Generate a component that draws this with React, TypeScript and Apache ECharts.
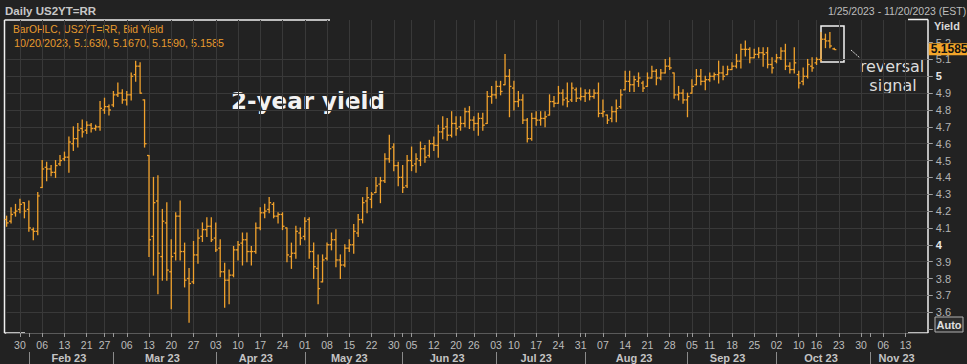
import React, { useEffect, useRef } from 'react';
import * as echarts from 'echarts';

// ---- calendar (trading days; future part of the axis shows all weekdays) ----
const AXIS_START = '2023-01-25';
const AXIS_END = '2023-11-20';
const HOLIDAYS = ['2023-02-20', '2023-05-29', '2023-06-19', '2023-07-04', '2023-09-04', '2023-10-09'];
const MONTH_NAMES = ['Jan', 'Feb', 'Mar', 'Apr', 'May', 'Jun', 'Jul', 'Aug', 'Sep', 'Oct', 'Nov', 'Dec'];

// ---- daily OHLC bars [open, high, low, close] ----
const OHLC_JAN = [
  [4.15, 4.17, 4.11, 4.13], [4.14, 4.22, 4.13, 4.18], [4.19, 4.24, 4.17, 4.2], [4.21, 4.27, 4.19, 4.24],
  [4.25, 4.25, 4.16, 4.2],
];
const OHLC_FEB = [
  [4.21, 4.26, 4.08, 4.1], [4.09, 4.1, 4.03, 4.08], [4.08, 4.31, 4.06, 4.29], [4.34, 4.5, 4.34, 4.45],
  [4.46, 4.49, 4.38, 4.45], [4.45, 4.47, 4.41, 4.43], [4.43, 4.5, 4.4, 4.47], [4.48, 4.53, 4.47, 4.5],
  [4.51, 4.55, 4.5, 4.52], [4.52, 4.64, 4.43, 4.61], [4.6, 4.7, 4.56, 4.63], [4.63, 4.72, 4.58, 4.68],
  [4.69, 4.74, 4.64, 4.67], [4.68, 4.73, 4.66, 4.71], [4.71, 4.72, 4.67, 4.69], [4.69, 4.71, 4.68, 4.7],
  [4.7, 4.85, 4.68, 4.81], [4.8, 4.87, 4.78, 4.82], [4.82, 4.83, 4.77, 4.8],
];
const OHLC_MAR = [
  [4.83, 4.91, 4.82, 4.89], [4.89, 4.96, 4.88, 4.9], [4.9, 4.92, 4.84, 4.86], [4.86, 4.91, 4.83, 4.89],
  [4.89, 5.02, 4.86, 5.0], [5.01, 5.09, 4.97, 5.06], [5.06, 5.08, 4.9, 4.9], [4.86, 4.86, 4.58, 4.6],
  [4.53, 4.53, 3.93, 4.03], [4.05, 4.4, 3.82, 4.25], [4.26, 4.41, 3.71, 3.95], [3.93, 4.21, 3.79, 4.14],
  [4.13, 4.25, 3.79, 3.85], [3.84, 4.03, 3.62, 3.93], [3.95, 4.19, 3.91, 4.17], [4.17, 4.26, 3.91, 3.96],
  [3.96, 4.01, 3.75, 3.79], [3.8, 3.86, 3.54, 3.77], [3.78, 4.02, 3.77, 3.94], [3.94, 4.09, 3.89, 4.04],
  [4.05, 4.13, 4.02, 4.09], [4.09, 4.16, 4.05, 4.11], [4.11, 4.16, 4.02, 4.03],
];
const OHLC_APR = [
  [4.04, 4.13, 3.96, 3.97], [3.98, 4.03, 3.81, 3.84], [3.84, 3.89, 3.63, 3.79], [3.79, 3.85, 3.65, 3.82],
  [3.82, 3.99, 3.81, 3.97], [3.97, 4.02, 3.91, 4.0], [4.01, 4.07, 3.88, 4.03], [4.03, 4.07, 3.9, 3.96],
  [3.96, 3.99, 3.88, 3.96], [3.96, 4.13, 3.95, 4.1], [4.1, 4.22, 4.09, 4.19], [4.19, 4.24, 4.16, 4.2],
  [4.21, 4.28, 4.19, 4.25], [4.24, 4.25, 4.16, 4.17], [4.17, 4.19, 4.13, 4.18], [4.18, 4.19, 4.09, 4.11],
  [4.1, 4.1, 3.9, 3.94], [3.93, 4.01, 3.86, 3.95], [3.95, 4.11, 3.92, 4.08], [4.07, 4.1, 4.0, 4.04],
];
const OHLC_MAY = [
  [4.05, 4.16, 4.03, 4.14], [4.15, 4.16, 3.92, 3.96], [3.96, 4.01, 3.8, 3.87], [3.86, 3.94, 3.65, 3.74],
  [3.78, 3.94, 3.78, 3.91], [3.92, 4.01, 3.91, 4.0], [4.0, 4.07, 3.97, 4.03], [4.03, 4.09, 3.87, 3.91],
  [3.91, 3.94, 3.8, 3.88], [3.88, 4.0, 3.87, 3.98], [3.98, 4.03, 3.96, 4.0], [4.0, 4.12, 3.95, 4.08],
  [4.07, 4.18, 4.05, 4.15], [4.15, 4.28, 4.13, 4.25], [4.26, 4.34, 4.19, 4.28], [4.27, 4.31, 4.22, 4.3],
  [4.31, 4.4, 4.31, 4.35], [4.36, 4.4, 4.25, 4.38], [4.38, 4.54, 4.37, 4.51], [4.51, 4.65, 4.49, 4.57],
  [4.58, 4.6, 4.44, 4.47], [4.47, 4.49, 4.35, 4.4],
];
const OHLC_JUN = [
  [4.4, 4.47, 4.31, 4.34], [4.35, 4.53, 4.34, 4.5], [4.5, 4.58, 4.44, 4.47], [4.48, 4.54, 4.43, 4.51],
  [4.5, 4.61, 4.47, 4.57], [4.57, 4.59, 4.49, 4.52], [4.53, 4.62, 4.52, 4.6], [4.6, 4.64, 4.56, 4.59],
  [4.59, 4.71, 4.52, 4.67], [4.67, 4.76, 4.63, 4.69], [4.7, 4.75, 4.62, 4.65], [4.65, 4.79, 4.64, 4.72],
  [4.72, 4.76, 4.65, 4.69], [4.7, 4.76, 4.68, 4.72], [4.72, 4.81, 4.7, 4.79], [4.79, 4.82, 4.69, 4.74],
  [4.74, 4.76, 4.68, 4.72], [4.72, 4.78, 4.65, 4.75], [4.75, 4.78, 4.68, 4.71], [4.72, 4.91, 4.72, 4.88],
  [4.88, 4.94, 4.84, 4.89],
];
const OHLC_JUL = [
  [4.89, 4.97, 4.87, 4.94], [4.94, 4.97, 4.89, 4.91], [4.95, 5.13, 4.95, 5.0], [5.0, 5.04, 4.76, 4.94],
  [4.93, 4.97, 4.8, 4.85], [4.85, 4.91, 4.82, 4.86], [4.86, 4.89, 4.72, 4.74], [4.74, 4.75, 4.61, 4.63],
  [4.63, 4.78, 4.62, 4.75], [4.75, 4.79, 4.71, 4.74], [4.74, 4.79, 4.71, 4.75], [4.75, 4.79, 4.7, 4.76],
  [4.77, 4.89, 4.77, 4.85], [4.85, 4.88, 4.82, 4.84], [4.84, 4.94, 4.84, 4.9], [4.9, 4.92, 4.83, 4.86],
  [4.87, 4.96, 4.82, 4.85], [4.86, 4.96, 4.85, 4.93], [4.92, 4.93, 4.85, 4.87], [4.87, 4.93, 4.86, 4.88],
];
const OHLC_AUG = [
  [4.88, 4.92, 4.85, 4.9], [4.9, 4.92, 4.86, 4.88], [4.88, 4.92, 4.87, 4.9], [4.9, 4.96, 4.76, 4.78],
  [4.78, 4.86, 4.76, 4.79], [4.77, 4.77, 4.72, 4.74], [4.75, 4.82, 4.73, 4.79], [4.79, 4.86, 4.73, 4.81],
  [4.82, 4.92, 4.81, 4.89], [4.92, 5.03, 4.92, 4.97], [4.97, 5.03, 4.91, 4.95], [4.95, 5.0, 4.91, 4.98],
  [4.97, 5.02, 4.94, 4.99], [4.96, 4.97, 4.91, 4.93], [4.94, 5.02, 4.94, 4.99], [4.99, 5.06, 4.99, 5.03],
  [5.03, 5.04, 4.95, 4.99], [4.99, 5.04, 4.98, 5.02], [5.02, 5.1, 5.02, 5.06], [5.06, 5.11, 5.04, 5.05],
  [5.02, 5.02, 4.87, 4.89], [4.89, 4.94, 4.86, 4.9], [4.9, 4.92, 4.84, 4.86],
];
const OHLC_SEP = [
  [4.86, 4.9, 4.76, 4.88], [4.9, 4.98, 4.9, 4.94], [4.95, 5.04, 4.95, 5.0], [5.0, 5.04, 4.95, 4.97],
  [4.97, 5.0, 4.92, 4.98], [4.98, 5.02, 4.97, 5.0], [5.0, 5.02, 4.98, 5.01], [5.01, 5.09, 4.96, 5.02],
  [5.02, 5.06, 4.98, 5.0], [5.01, 5.06, 5.01, 5.04], [5.04, 5.08, 5.04, 5.06], [5.06, 5.13, 5.05, 5.09],
  [5.09, 5.19, 5.05, 5.16], [5.16, 5.21, 5.12, 5.16], [5.16, 5.17, 5.08, 5.11], [5.11, 5.16, 5.11, 5.13],
  [5.13, 5.17, 5.11, 5.14], [5.14, 5.17, 5.06, 5.13], [5.14, 5.17, 5.05, 5.07], [5.07, 5.11, 5.02, 5.05],
];
const OHLC_OCT = [
  [5.09, 5.13, 5.08, 5.11], [5.11, 5.17, 5.1, 5.15], [5.15, 5.19, 5.04, 5.06], [5.06, 5.08, 5.02, 5.04],
  [5.04, 5.17, 5.02, 5.08], [5.01, 5.03, 4.93, 4.96], [4.97, 5.05, 4.95, 5.0], [5.0, 5.1, 4.99, 5.07],
  [5.06, 5.11, 5.03, 5.05], [5.08, 5.11, 5.07, 5.1], [5.1, 5.26, 5.09, 5.22], [5.22, 5.25, 5.17, 5.21],
  [5.21, 5.26, 5.17, 5.18], [5.163, 5.167, 5.159, 5.1585],
];

// y-axis tick / label values
const Y_TICKS = [3.5, 3.6, 3.7, 3.8, 3.9, 4, 4.1, 4.2, 4.3, 4.4, 4.5, 4.6, 4.7, 4.8, 4.9, 5, 5.1, 5.2];
const Y_LABELS = [3.6, 3.7, 3.8, 3.9, 4, 4.1, 4.2, 4.3, 4.4, 4.5, 4.6, 4.7, 4.8, 4.9, 5, 5.1, 5.2];

const BAR_COLOR = '#f0a12c';
const BG = '#222222';
const GRID_LINE = '#393939';
const FONT = '"Liberation Sans", Arial, sans-serif';
const VFONT = '"DejaVu Sans", Verdana, sans-serif';

function buildDates(): string[] {
  const out: string[] = [];
  const d = new Date(AXIS_START + 'T00:00:00Z');
  const end = new Date(AXIS_END + 'T00:00:00Z').getTime();
  while (d.getTime() <= end) {
    const wd = d.getUTCDay();
    const s = d.toISOString().slice(0, 10);
    if (wd !== 0 && wd !== 6 && HOLIDAYS.indexOf(s) < 0) out.push(s);
    d.setUTCDate(d.getUTCDate() + 1);
  }
  return out;
}

export default function App() {
  const ref = useRef<HTMLDivElement>(null);

  useEffect(() => {
    if (!ref.current) return;
    const dates = buildDates();
    const bars = [
      ...OHLC_JAN, ...OHLC_FEB, ...OHLC_MAR, ...OHLC_APR, ...OHLC_MAY,
      ...OHLC_JUN, ...OHLC_JUL, ...OHLC_AUG, ...OHLC_SEP, ...OHLC_OCT,
    ];
    const seriesData = bars.map((b, i) => [i, b[0], b[1], b[2], b[3]]);
    const last = bars[bars.length - 1];
    const lastDate = dates[bars.length - 1];
    const lastIdx = dates.length - 1;

    const wd = (s: string) => new Date(s + 'T00:00:00Z').getUTCDay();
    const mon = (s: string) => Number(s.slice(5, 7)) - 1;
    const isWeekStart = (i: number) => i > 0 && wd(dates[i]) < wd(dates[i - 1]);
    const isMonthStart = (i: number) => i > 0 && mon(dates[i]) !== mon(dates[i - 1]);
    // middle index of each month segment after the first one
    const monthMid: Record<number, boolean> = {};
    let segStart = -1;
    for (let i = 1; i <= dates.length; i++) {
      if (i === dates.length || isMonthStart(i)) {
        if (segStart >= 0) monthMid[Math.floor((segStart + i - 1) / 2)] = true;
        segStart = i;
      }
    }

    const chart = echarts.init(ref.current, undefined, { renderer: 'svg' });
    const fmtDate = (s: string) => `${Number(s.slice(5, 7))}/${Number(s.slice(8, 10))}/${s.slice(0, 4)}`;

    const option: any = {
      animation: false,
      backgroundColor: BG,
      grid: [
        { left: 6.6, right: 39.2, top: 8.9, bottom: 18.1 },
        { left: 6.6, right: 39.2, top: 20, bottom: 31 },
      ],
      xAxis: [
        { gridIndex: 0, type: 'category', data: dates, boundaryGap: false, show: false },
        {
          gridIndex: 1, type: 'category', data: dates, boundaryGap: false,
          axisLine: { show: true, lineStyle: { color: '#5a5a5a', width: 1 } },
          axisTick: {
            show: true, interval: (i: number) => i < lastIdx && (isWeekStart(i) || isMonthStart(i)),
            length: 4, lineStyle: { color: '#9a9a9a' },
          },
          axisLabel: {
            interval: (i: number) => i < lastIdx && isWeekStart(i), formatter: (v: string) => v.slice(8, 10),
            color: '#bdbdbd', fontSize: 10.5, fontFamily: FONT, margin: 6,
          },
          splitLine: { show: true, interval: (i: number) => i < lastIdx && isWeekStart(i), lineStyle: { color: GRID_LINE, width: 1 } },
        },
        {
          gridIndex: 1, type: 'category', data: dates, boundaryGap: false, position: 'bottom', offset: 19,
          axisLine: { show: false },
          axisTick: { show: true, interval: (i: number) => isMonthStart(i), length: 12, lineStyle: { color: '#8a8a8a' } },
          axisLabel: {
            interval: (i: number) => !!monthMid[i],
            formatter: (v: string) => `${MONTH_NAMES[mon(v)]} ${v.slice(2, 4)}`,
            color: '#c4c4c4', fontSize: 11, fontWeight: 'bold', fontFamily: FONT, margin: 0,
          },
          splitLine: { show: false },
        },
      ],
      yAxis: [
        {
          gridIndex: 0, type: 'value', position: 'right', min: 3.4, max: 5.4, interval: 0.1,
          axisLine: { show: false },
          axisTick: { show: true, length: 5, customValues: Y_TICKS, lineStyle: { color: '#a0a0a0' } },
          axisLabel: {
            customValues: Y_LABELS, margin: 8, color: '#b4b4b4', fontSize: 11, fontFamily: FONT, lineHeight: 11,
            formatter: (v: number) => {
              const r = Math.round(v * 10) / 10;
              return Number.isInteger(r) ? `{b|${r}}` : r.toFixed(1);
            },
            rich: { b: { fontWeight: 'bold', color: '#e8e8e8', fontSize: 11, fontFamily: FONT, lineHeight: 11 } },
          },
          splitLine: { show: true, showMinLine: false, showMaxLine: false, lineStyle: { color: GRID_LINE, width: 1 } },
        },
        { gridIndex: 1, type: 'value', show: false, min: 0, max: 1 },
      ],
      series: [
        {
          type: 'custom',
          xAxisIndex: 0,
          yAxisIndex: 0,
          data: seriesData,
          encode: { x: 0, y: [1, 2, 3, 4] },
          renderItem: (params: any, api: any) => {
            const x = api.value(0);
            const ph = api.coord([x, api.value(2)]);
            const pl = api.coord([x, api.value(3)]);
            const po = api.coord([x, api.value(1)]);
            const pc = api.coord([x, api.value(4)]);
            const st = { stroke: BAR_COLOR, lineWidth: 1.3 };
            return {
              type: 'group',
              children: [
                { type: 'line', shape: { x1: ph[0], y1: ph[1] - 0.5, x2: pl[0], y2: pl[1] + 0.5 }, style: st },
                { type: 'line', shape: { x1: po[0] - 2, y1: po[1], x2: po[0], y2: po[1] }, style: st },
                { type: 'line', shape: { x1: pc[0], y1: pc[1], x2: pc[0] + 2, y2: pc[1] }, style: st },
              ],
            };
          },
          markLine: {
            silent: true,
            symbol: ['none', 'none'],
            lineStyle: { color: 'rgba(0,0,0,0)', width: 0 },
            label: {
              show: true, position: 'end', distance: 1, opacity: 1,
              formatter: () => last[3].toFixed(4),
              backgroundColor: '#f2a52a', color: '#111111', fontWeight: 'bold', fontSize: 12,
              fontFamily: FONT, padding: [0, 3, 0, 2], lineHeight: 12,
            },
            emphasis: { disabled: true },
            data: [{ yAxis: last[3] }],
          },
          z: 5,
        },
      ],
      graphic: [
        // header texts
        { type: 'text', x: 5, y: 11, style: { text: 'Daily US2YT=RR', fill: '#c8c8c8', font: `bold 11.5px ${FONT}`, verticalAlign: 'middle' } },
        { type: 'text', x: 13, y: 29, style: { text: 'BarOHLC, US2YT=RR, Bid Yield', fill: '#e89b2e', font: `10.3px ${FONT}`, verticalAlign: 'middle' } },
        {
          type: 'text', x: 14, y: 43,
          style: {
            text: `${fmtDate(lastDate)}, ${last[0].toFixed(4)}, ${last[1].toFixed(4)}, ${last[2].toFixed(4)}, ${last[3].toFixed(4)}`,
            fill: '#e89b2e', font: `10.8px ${FONT}`, verticalAlign: 'middle',
          },
        },
        { type: 'text', x: 828, y: 11, style: { text: `${fmtDate(AXIS_START)} - ${fmtDate(AXIS_END)} (EST)`, fill: '#bdbdbd', font: `10.5px ${FONT}`, verticalAlign: 'middle' } },
        { type: 'text', x: 934, y: 26, style: { text: 'Yield', fill: '#d8d8d8', font: `bold 11px ${FONT}`, verticalAlign: 'middle' } },
        // frame
        { type: 'line', shape: { x1: 4.5, y1: 20, x2: 4.5, y2: 333 }, style: { stroke: '#f0f0f0', lineWidth: 1.5 } },
        { type: 'line', shape: { x1: 4.5, y1: 20, x2: 330, y2: 20 }, style: { stroke: '#f0f0f0', lineWidth: 1.5 } },
        { type: 'line', shape: { x1: 4.5, y1: 333, x2: 25, y2: 333 }, style: { stroke: '#f0f0f0', lineWidth: 1.5 } },
        { type: 'line', shape: { x1: 908, y1: 19.5, x2: 928, y2: 19.5 }, style: { stroke: '#f0f0f0', lineWidth: 1.5 } },
        { type: 'line', shape: { x1: 928, y1: 19.5, x2: 928, y2: 333 }, style: { stroke: '#f0f0f0', lineWidth: 1.5 } },
        { type: 'line', shape: { x1: 908, y1: 333, x2: 928, y2: 333 }, style: { stroke: '#f0f0f0', lineWidth: 1.5 } },
        // Auto box
        { type: 'rect', shape: { x: 935, y: 317, width: 28, height: 15 }, style: { fill: '#2c2c2c', stroke: '#b0b0b0', lineWidth: 1 } },
        { type: 'text', x: 949, y: 325, style: { text: 'Auto', fill: '#e0e0e0', font: `bold 11px ${FONT}`, align: 'center', verticalAlign: 'middle' } },
        // annotation
        { type: 'text', x: 308, y: 101, style: { text: '2-year yield', fill: '#f2f2f2', font: `bold 23px ${VFONT}`, align: 'center', verticalAlign: 'middle' } },
        { type: 'rect', shape: { x: 821, y: 26, width: 23, height: 36 }, style: { fill: 'none', stroke: '#f4f4f4', lineWidth: 1.5 } },
        { type: 'line', shape: { x1: 851, y1: 50, x2: 860, y2: 58 }, style: { stroke: '#dddddd', lineWidth: 1, lineDash: [2, 1] } },
        { type: 'text', x: 892, y: 66, style: { text: 'reversal', fill: '#dcdcdc', font: `16px ${VFONT}`, align: 'center', verticalAlign: 'middle' } },
        { type: 'text', x: 893, y: 85, style: { text: 'signal', fill: '#dcdcdc', font: `16px ${VFONT}`, align: 'center', verticalAlign: 'middle' } },
      ],
    };

    chart.setOption(option);
    return () => chart.dispose();
  }, []);

  return (
    <div
      ref={ref}
      style={{ position: 'fixed', left: 0, top: 0, width: 967, height: 364, background: BG }}
    />
  );
}
